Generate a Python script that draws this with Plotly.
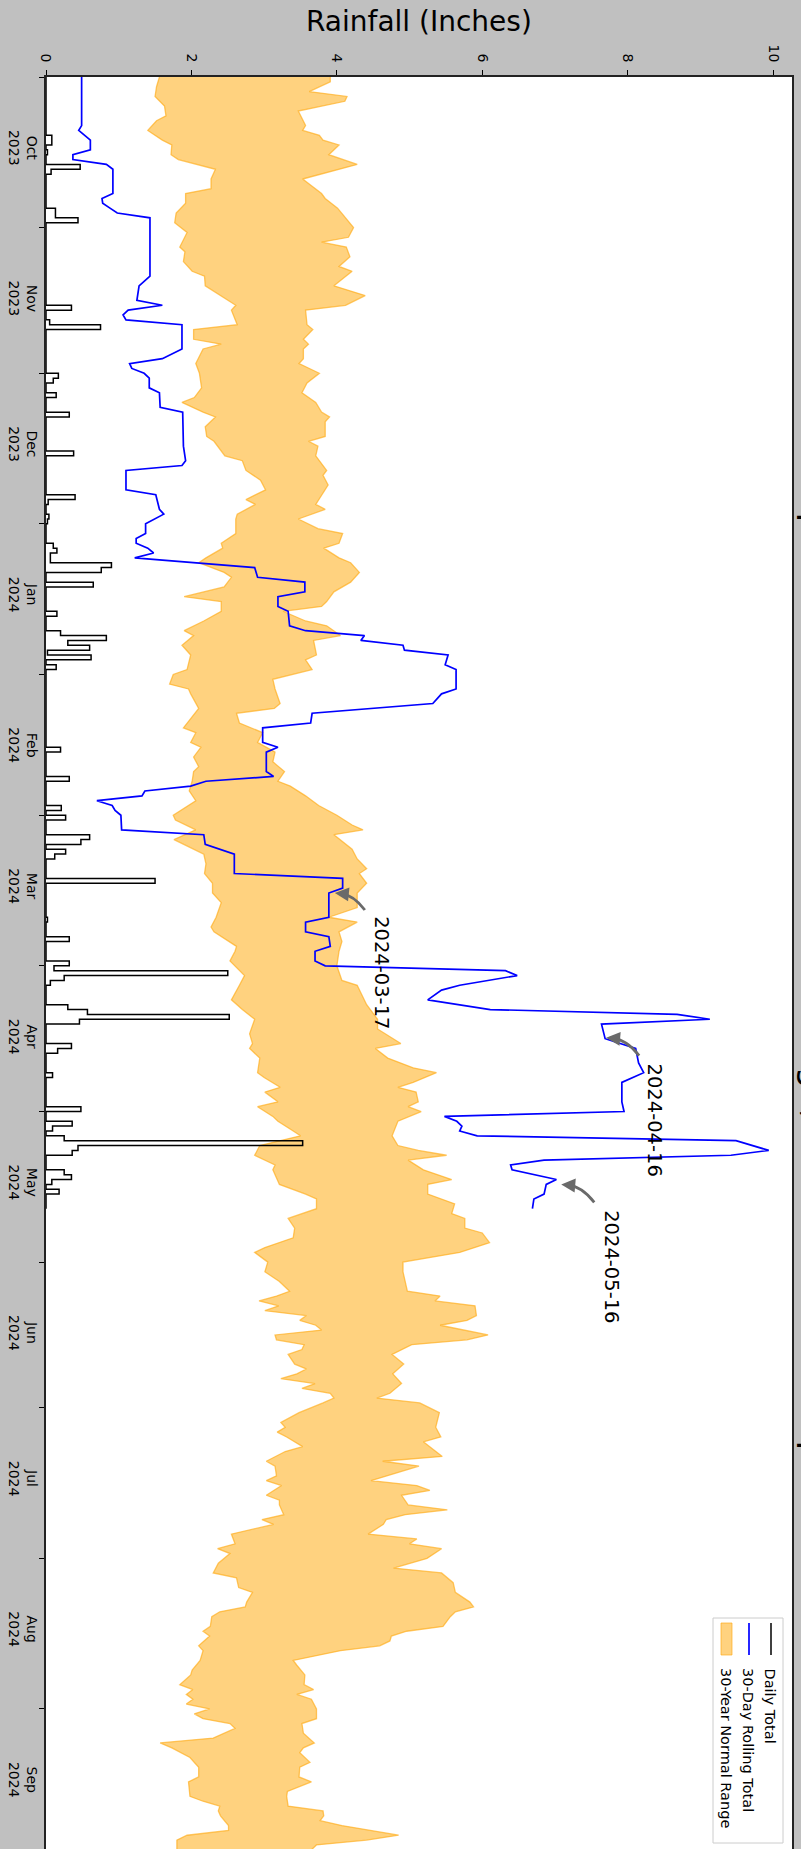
import math
import plotly.graph_objects as go
from datetime import date, datetime, timedelta

# ---------------- data (day offsets counted from the first day of record) ----------------
START = date(2023, 10, 1)

# daily rainfall totals (inches) on the days with rain
rain_day = [12, 13, 15, 18, 19, 27, 28, 29, 47, 50, 51, 61, 62, 65, 69, 77, 86, 87, 90, 91,
            96, 97, 98, 99, 100, 101, 104, 110, 114, 115, 116, 117, 118, 119, 121, 138, 144,
            150, 152, 156, 157, 159, 160, 165, 173, 177, 182, 183, 184, 185, 186, 191, 192,
            193, 194, 199, 200, 205, 212, 215, 216, 218, 219, 220, 221, 225, 226, 227, 229]
rain_val = [0.08, 0.08, 0.02, 0.47, 0.07, 0.13, 0.13, 0.44, 0.35, 0.05, 0.75, 0.17, 0.10, 0.14,
            0.32, 0.38, 0.40, 0.03, 0.04, 0.02, 0.10, 0.15, 0.06, 0.06, 0.90, 0.76, 0.65, 0.15,
            0.20, 0.83, 0.30, 0.60, 0.02, 0.62, 0.14, 0.20, 0.32, 0.21, 0.27, 0.60, 0.48, 0.27,
            0.12, 1.50, 0.02, 0.32, 0.32, 0.11, 2.50, 0.25, 0.06, 0.30, 0.57, 2.52, 0.46, 0.35,
            0.16, 0.09, 0.48, 0.36, 0.09, 0.25, 3.53, 0.44, 0.36, 0.25, 0.35, 0.08, 0.18]
last_record_day = 233

# 30-day rolling total (inches)
roll_day = [0, 10, 11, 13, 15, 16, 17, 18, 19, 24, 25, 26, 27, 28, 29, 41, 43, 46, 47, 48, 49, 50,
            51, 56, 58, 59, 60, 61, 62, 64, 65, 68, 69, 76, 79, 80, 81, 85, 86, 89, 90, 92, 94, 95,
            96, 97, 98, 99, 101, 103, 104, 106, 107, 109, 110, 113, 114, 115, 116, 117, 118, 119,
            121, 122, 126, 127, 129, 131, 133, 134, 137, 138, 139, 143, 144, 145, 146, 147, 148,
            149, 150, 151, 152, 155, 156, 158, 160, 164, 165, 167, 168, 173, 174, 176, 177, 179,
            180, 182, 183, 184, 185, 187, 188, 190, 192, 193, 194, 195, 198, 200, 203, 205, 207,
            211, 213, 214, 215, 216, 217, 218, 219, 221, 222, 223, 224, 225, 227, 228, 230, 231, 233]
roll_val = [0.49, 0.49, 0.45, 0.61, 0.61, 0.37, 0.37, 0.83, 0.92, 0.92, 0.77, 0.78, 0.88, 0.98,
            1.43, 1.43, 1.28, 1.25, 1.60, 1.13, 1.06, 1.10, 1.87, 1.87, 1.60, 1.15, 1.18, 1.35,
            1.42, 1.42, 1.56, 1.57, 1.88, 1.89, 1.92, 1.87, 1.10, 1.10, 1.51, 1.56, 1.62, 1.37,
            1.37, 1.24, 1.24, 1.40, 1.48, 1.22, 2.87, 2.91, 3.56, 3.56, 3.19, 3.19, 3.33, 3.35,
            3.57, 4.38, 4.33, 4.91, 4.93, 5.53, 5.49, 5.64, 5.64, 5.44, 5.32, 3.66, 3.64, 2.98,
            2.98, 3.19, 3.03, 3.03, 3.13, 2.20, 1.99, 1.36, 1.32, 0.70, 0.91, 0.95, 1.03, 1.04,
            2.17, 2.19, 2.59, 2.59, 4.08, 4.08, 3.89, 3.89, 3.57, 3.57, 3.89, 3.91, 3.70, 3.70,
            3.84, 6.32, 6.48, 5.69, 5.44, 5.25, 6.11, 8.68, 9.13, 7.64, 7.69, 8.11, 8.15, 8.22,
            7.92, 7.92, 7.95, 5.48, 5.65, 5.72, 5.69, 5.93, 9.49, 9.94, 9.42, 6.85, 6.39, 6.41,
            7.02, 6.88, 6.85, 6.71, 6.69]

# 30-year normal range: lower and upper bounds (inches)
low_day = [0, 2, 4, 6, 8, 9, 11, 13, 14, 16, 17, 19, 21, 23, 24, 26, 28, 30, 32, 35, 36, 38, 40,
           41, 43, 45, 47, 48, 51, 52, 54, 55, 56, 59, 61, 64, 66, 67, 69, 70, 72, 74, 75, 78, 79,
           81, 83, 85, 87, 88, 90, 91, 94, 96, 97, 99, 100, 102, 103, 105, 107, 108, 110, 112,
           114, 115, 117, 119, 122, 123, 125, 126, 127, 130, 132, 134, 135, 137, 138, 140, 142,
           143, 145, 147, 149, 152, 153, 155, 157, 158, 160, 162, 164, 166, 168, 170, 173, 175,
           176, 179, 180, 182, 185, 187, 190, 192, 194, 197, 199, 200, 202, 205, 206, 208, 209,
           211, 212, 214, 215, 217, 218, 220, 222, 224, 225, 228, 230, 231, 233, 235, 237, 239,
           241, 242, 244, 246, 248, 250, 251, 252, 253, 254, 255, 256, 257, 258, 259, 260, 261,
           262, 263, 265, 266, 267, 268, 269, 270, 271, 272, 273, 275, 277, 278, 279, 280, 282,
           283, 285, 286, 288, 289, 290, 292, 293, 294, 296, 297, 298, 299, 300, 302, 303, 304,
           306, 308, 309, 311, 312, 314, 315, 316, 317, 319, 320, 321, 323, 324, 326, 328, 329,
           331, 332, 333, 334, 335, 336, 337, 338, 339, 340, 342, 343, 344, 346, 348, 350, 351,
           354, 355, 356, 357, 358, 360, 361, 362, 363, 366]
low_val = [1.56, 1.52, 1.50, 1.63, 1.65, 1.52, 1.40, 1.60, 1.73, 1.72, 1.82, 2.33, 2.27, 2.27,
           1.92, 1.92, 1.79, 1.77, 1.94, 1.84, 1.91, 1.89, 2.01, 2.18, 2.19, 2.41, 2.61, 2.55,
           2.63, 2.03, 2.03, 2.41, 2.16, 2.06, 2.11, 2.14, 2.04, 1.87, 2.16, 2.33, 2.19, 2.21,
           2.31, 2.46, 2.70, 2.75, 2.95, 3.02, 2.75, 2.88, 2.63, 2.61, 2.61, 2.41, 2.43, 2.20,
           2.10, 2.45, 2.55, 2.45, 1.90, 2.41, 2.41, 2.17, 1.90, 2.03, 1.87, 1.99, 1.94, 1.75,
           1.70, 1.96, 1.99, 2.10, 1.99, 1.89, 2.06, 1.99, 2.13, 2.03, 2.10, 2.03, 2.01, 1.97,
           2.06, 1.75, 1.78, 2.06, 1.76, 1.89, 2.17, 2.20, 2.18, 2.29, 2.29, 2.41, 2.34, 2.27,
           2.31, 2.62, 2.60, 2.53, 2.73, 2.66, 2.55, 2.70, 2.87, 2.80, 2.84, 2.80, 2.94, 2.91,
           3.00, 3.22, 3.01, 3.19, 2.91, 3.12, 3.19, 3.40, 3.50, 2.94, 2.87, 3.15, 3.12, 3.21,
           3.57, 3.72, 3.72, 3.33, 3.42, 3.40, 3.01, 2.87, 3.05, 3.01, 3.21, 3.35, 3.17, 2.93,
           3.20, 3.01, 3.58, 3.49, 3.71, 3.79, 3.15, 3.17, 3.55, 3.52, 3.33, 3.42, 3.58, 3.45,
           3.23, 3.70, 3.52, 3.91, 3.96, 3.81, 3.48, 3.23, 3.29, 3.18, 3.31, 3.53, 3.29, 3.03,
           3.15, 3.17, 3.03, 3.24, 3.03, 3.21, 3.21, 3.27, 2.97, 3.13, 2.85, 2.55, 2.60, 2.36,
           2.53, 2.37, 2.30, 2.62, 2.65, 2.84, 2.76, 2.74, 2.39, 2.28, 2.26, 2.16, 2.25, 2.10,
           2.16, 2.12, 2.01, 1.99, 1.84, 2.02, 1.93, 2.02, 1.93, 2.25, 2.04, 2.16, 2.53, 2.60,
           2.30, 1.57, 1.73, 1.98, 2.10, 2.10, 1.96, 1.98, 2.16, 2.39, 2.37, 2.40, 2.51, 2.51,
           1.94, 1.80, 1.80]

up_day = [0, 1, 3, 4, 5, 7, 10, 11, 12, 13, 14, 16, 18, 21, 24, 25, 27, 31, 33, 34, 35, 37, 39,
          40, 43, 45, 47, 48, 51, 52, 54, 55, 56, 58, 59, 61, 63, 65, 67, 69, 70, 71, 74, 75, 76,
          78, 80, 81, 82, 84, 88, 89, 91, 93, 94, 96, 97, 99, 100, 102, 104, 106, 108, 109, 110,
          112, 113, 115, 116, 119, 120, 122, 124, 126, 129, 130, 131, 133, 135, 137, 139, 141,
          143, 145, 146, 148, 150, 152, 154, 155, 156, 159, 161, 163, 164, 166, 168, 171, 173,
          174, 176, 178, 180, 183, 186, 187, 191, 194, 196, 198, 199, 200, 202, 204, 205, 207,
          208, 209, 211, 212, 213, 215, 218, 220, 221, 222, 223, 225, 227, 228, 230, 232, 234,
          235, 237, 238, 240, 242, 244, 246, 250, 251, 252, 253, 255, 256, 257, 259, 260, 261,
          263, 265, 267, 269, 271, 272, 273, 275, 278, 280, 281, 284, 285, 286, 289, 290, 291,
          292, 294, 295, 296, 297, 298, 300, 301, 302, 303, 305, 307, 308, 310, 312, 314, 315,
          316, 317, 319, 320, 321, 322, 323, 324, 326, 327, 329, 331, 332, 333, 334, 336, 338,
          339, 341, 343, 344, 345, 347, 348, 350, 351, 353, 354, 356, 357, 358, 359, 360, 362,
          363, 364, 366]
up_val = [3.91, 3.91, 3.62, 4.14, 4.11, 3.47, 3.57, 3.53, 3.76, 3.81, 4.03, 3.89, 4.28, 3.53,
          3.79, 3.84, 4.01, 4.23, 4.16, 3.79, 4.13, 4.18, 4.03, 4.21, 3.96, 4.39, 4.12, 3.57,
          3.59, 3.67, 3.54, 3.61, 3.54, 3.54, 3.48, 3.76, 3.59, 3.52, 3.71, 3.79, 3.90, 3.84,
          3.84, 3.61, 3.74, 3.71, 3.81, 3.86, 3.81, 3.88, 3.71, 3.84, 3.47, 3.74, 4.08, 4.03,
          3.82, 4.03, 4.19, 4.31, 4.19, 3.96, 3.86, 3.79, 3.26, 3.57, 3.86, 4.05, 3.68, 3.72,
          3.57, 3.66, 3.12, 3.15, 3.22, 3.14, 2.62, 2.66, 2.98, 2.91, 3.15, 3.12, 3.28, 3.19,
          3.36, 3.57, 3.75, 4.00, 4.21, 4.36, 3.96, 4.21, 4.28, 4.41, 4.31, 4.41, 4.28, 4.28,
          3.89, 4.28, 4.03, 4.07, 4.03, 4.00, 4.07, 4.28, 4.41, 4.56, 4.56, 4.77, 4.88, 4.53,
          4.70, 5.05, 5.37, 5.05, 4.84, 5.09, 5.12, 4.98, 5.16, 4.84, 4.76, 4.84, 5.12, 5.51,
          4.98, 5.19, 5.58, 5.25, 5.25, 5.62, 5.58, 5.76, 5.76, 6.00, 6.10, 5.69, 4.91, 4.91,
          4.97, 5.42, 5.35, 5.90, 5.92, 5.79, 5.42, 6.08, 5.79, 5.03, 4.76, 4.92, 4.77, 4.89,
          4.73, 4.55, 5.14, 5.41, 5.36, 5.43, 5.19, 5.45, 4.63, 5.13, 4.47, 5.10, 5.28, 4.89,
          4.98, 5.52, 4.94, 4.68, 4.64, 4.43, 5.10, 5.00, 5.44, 5.24, 4.78, 5.44, 5.60, 5.63,
          5.83, 5.88, 5.63, 5.56, 5.46, 4.96, 4.75, 4.73, 4.59, 4.05, 3.40, 3.45, 3.56, 3.55,
          3.68, 3.45, 3.65, 3.72, 3.72, 3.52, 3.54, 3.69, 3.54, 3.49, 3.63, 3.49, 3.48, 3.65,
          3.32, 3.31, 3.33, 3.81, 3.82, 3.77, 4.07, 4.85, 4.41, 3.72, 3.58]

annotated_dates = ["2024-03-17", "2024-04-16", "2024-05-16"]

tick_values = [0, 2, 4, 6, 8, 10]
month_labels = ["Oct<br>2023", "Nov<br>2023", "Dec<br>2023", "Jan<br>2024", "Feb<br>2024",
                "Mar<br>2024", "Apr<br>2024", "May<br>2024", "Jun<br>2024", "Jul<br>2024",
                "Aug<br>2024", "Sep<br>2024"]
month_starts = ["2023-10-01", "2023-11-01", "2023-12-01", "2024-01-01", "2024-02-01",
                "2024-03-01", "2024-04-01", "2024-05-01", "2024-06-01", "2024-07-01",
                "2024-08-01", "2024-09-01"]
label_dates = [m[:8] + "16" for m in month_starts]

legend_labels = ["Daily Total", "30-Day Rolling Total", "30-Year Normal Range"]
axis_title = "Rainfall (Inches)"
chart_title = "Rainfall Compared to the 30-Year Normal Range, October 2023 - September 2024"

assert len(rain_day) == len(rain_val)
assert len(roll_day) == len(roll_val)
assert len(low_day) == len(low_val)
assert len(up_day) == len(up_val)


def to_date(d):
    return START + timedelta(days=d)


# full daily series (zero on dry days)
daily = [0.0] * (last_record_day + 1)
for d, v in zip(rain_day, rain_val):
    daily[d] = v
daily_dates = [to_date(i) for i in range(last_record_day + 1)]

# ---------------- geometry helpers ----------------
W, H = 801, 1849
ML, MR, MT, MB = 46, 9, 77, 0
PW, PH = W - ML - MR, H - MT - MB
X_MAX = 10.26
PX_PER_DAY = 4.857
RANGE_DAYS = PH / PX_PER_DAY


def xp(px):
    return (px - ML) / PW


def yp(py):
    return 1 - (py - MT) / PH


def data_px(val, day):
    return ML + val / X_MAX * PW, MT + day / RANGE_DAYS * PH


ORANGE_FILL = "rgba(255,166,0,0.5)"
ORANGE_LINE = "rgba(255,170,20,0.65)"
ARROW_GRAY = "#6a6a6a"
FONT = "DejaVu Sans"

fig = go.Figure()

# normal range band
fig.add_trace(go.Scatter(x=low_val, y=[to_date(d) for d in low_day], mode="lines",
                         line=dict(color=ORANGE_LINE, width=1.3), hoverinfo="skip"))
fig.add_trace(go.Scatter(x=up_val, y=[to_date(d) for d in up_day], mode="lines",
                         line=dict(color=ORANGE_LINE, width=1.3), fill="tonextx",
                         fillcolor=ORANGE_FILL, hoverinfo="skip"))

# daily totals (step outline)
fig.add_trace(go.Scatter(x=daily, y=daily_dates, mode="lines",
                         line=dict(color="black", width=1.5, shape="vh")))

# 30-day rolling total
fig.add_trace(go.Scatter(x=roll_val, y=[to_date(d) for d in roll_day], mode="lines",
                         line=dict(color="#0000ff", width=1.7)))

end_range = datetime(2023, 10, 1) + timedelta(days=RANGE_DAYS)

annotations = []
shapes = []
# annotated points on the rolling total (text + curved arrow)
text_offsets = [(52, 80), (49, 81), (65, 82)]
arrow_tails = [(36, 17), (34, 17), (48, 18)]
arrow_tips = [(6, 0), (1, -1), (15, 0)]
for ds, (tx, ty), (axo, ayo), (tpx, tpy) in zip(annotated_dates, text_offsets, arrow_tails,
                                                  arrow_tips):
    dd = date.fromisoformat(ds)
    off = (dd - START).days
    val = roll_val[roll_day.index(off)]
    annotations.append(dict(x=val, y=ds, xref="x", yref="y", text=ds, showarrow=False,
                            textangle=90, xshift=tx, yshift=-ty,
                            font=dict(family=FONT, size=19.5, color="black")))
    px0, py0 = data_px(val, off)
    T = (px0 + axo, py0 + ayo)
    P = (px0 + tpx, py0 + tpy)
    dx, dy = P[0] - T[0], P[1] - T[1]
    L = math.hypot(dx, dy)
    # bow the arrow towards the upper right (like an arc connection)
    C = ((T[0] + P[0]) / 2 + 0.2 * dy * -1 * -1 * (1), (T[1] + P[1]) / 2 - 0.2 * dx * -1)
    C = ((T[0] + P[0]) / 2 - 0.22 * dy, (T[1] + P[1]) / 2 + 0.22 * dx)
    # head: short segment along the end tangent
    ex, ey = P[0] - C[0], P[1] - C[1]
    el = math.hypot(ex, ey)
    ux, uy = ex / el, ey / el
    stem_end = (P[0] - ux * 6, P[1] - uy * 6)
    path = "M {:.5f},{:.5f} Q {:.5f},{:.5f} {:.5f},{:.5f}".format(
        xp(T[0]), yp(T[1]), xp(C[0]), yp(C[1]), xp(stem_end[0]), yp(stem_end[1]))
    shapes.append(dict(type="path", xref="paper", yref="paper", path=path,
                       line=dict(color=ARROW_GRAY, width=2.8), layer="above"))
    annotations.append(dict(x=val, y=ds, xref="x", yref="y", text="", showarrow=True,
                            xshift=tpx, yshift=-tpy,
                            ax=-ux * 11, ay=-uy * 11, axref="pixel", ayref="pixel",
                            arrowhead=2, arrowsize=1.0, arrowwidth=2.8, arrowcolor=ARROW_GRAY,
                            standoff=0))

# axis title (top)
annotations.append(dict(x=0.5, y=yp(21), xref="paper", yref="paper", text=axis_title,
                        showarrow=False, xanchor="center", yanchor="middle",
                        font=dict(family=FONT, size=28, color="black")))
# chart title, rotated and mostly outside the page on the right
annotations.append(dict(x=xp(794), y=yp(990), xref="paper", yref="paper", text=chart_title,
                        showarrow=False, xanchor="left", yanchor="middle", textangle=90,
                        font=dict(family=FONT, size=34, color="black")))

# ---------------- rotated legend (drawn by hand) ----------------
shapes.append(dict(type="rect", xref="paper", yref="paper", x0=xp(713), x1=xp(783),
                   y0=yp(1843), y1=yp(1618), line=dict(color="#cccccc", width=1),
                   fillcolor="rgba(255,255,255,0.85)", layer="above"))
shapes.append(dict(type="line", xref="paper", yref="paper", x0=xp(771), x1=xp(771),
                   y0=yp(1623), y1=yp(1655), line=dict(color="black", width=1.5), layer="above"))
shapes.append(dict(type="line", xref="paper", yref="paper", x0=xp(749), x1=xp(749),
                   y0=yp(1623), y1=yp(1655), line=dict(color="#0000ff", width=1.7), layer="above"))
shapes.append(dict(type="rect", xref="paper", yref="paper", x0=xp(721), x1=xp(732),
                   y0=yp(1655), y1=yp(1623), line=dict(color=ORANGE_LINE, width=1),
                   fillcolor=ORANGE_FILL, layer="above"))
for lab, lx in zip(legend_labels, [770, 748, 726]):
    annotations.append(dict(x=xp(lx), y=yp(1666), xref="paper", yref="paper", text=lab,
                            showarrow=False, xanchor="center", yanchor="top", textangle=90,
                            font=dict(family=FONT, size=14.5, color="black")))

fig.update_layout(
    width=W, height=H,
    margin=dict(l=ML, r=MR, t=MT, b=MB, pad=0, autoexpand=False),
    paper_bgcolor="#c0c0c0", plot_bgcolor="white",
    showlegend=False,
    font=dict(family=FONT, color="black", size=14),
    xaxis=dict(range=[0, X_MAX], side="top", tickmode="array", tickvals=tick_values,
               ticktext=[str(t) for t in tick_values], tickangle=90, ticks="outside",
               ticklen=5, tickwidth=1.2, tickcolor="black", showline=True, linecolor="#222222",
               linewidth=1.6, mirror=False, showgrid=False, zeroline=False,
               ticklabelstandoff=3,
               tickfont=dict(family=FONT, size=14, color="black"), fixedrange=True),
    yaxis=dict(type="date", range=[end_range, datetime(2023, 10, 1)], tickmode="array",
               tickvals=label_dates, ticktext=month_labels, tickangle=90, ticks="outside",
               ticklen=0, showline=True, linecolor="#222222", linewidth=1.6, mirror=True,
               showgrid=False, zeroline=False,
               tickfont=dict(family=FONT, size=14, color="black"),
               minor=dict(tickmode="array", tickvals=month_starts, ticks="outside", ticklen=5,
                          tickwidth=1.2, tickcolor="black", showgrid=False)),
    annotations=annotations,
    shapes=shapes,
)

page_fix = ("document.documentElement.style.margin='0';document.body.style.margin='0';"
            "document.body.style.padding='0';document.body.style.overflow='hidden';"
            "document.documentElement.style.overflow='hidden';")
fig.write_html("out.html", include_plotlyjs=True, config={"displayModeBar": False},
               post_script=page_fix)
